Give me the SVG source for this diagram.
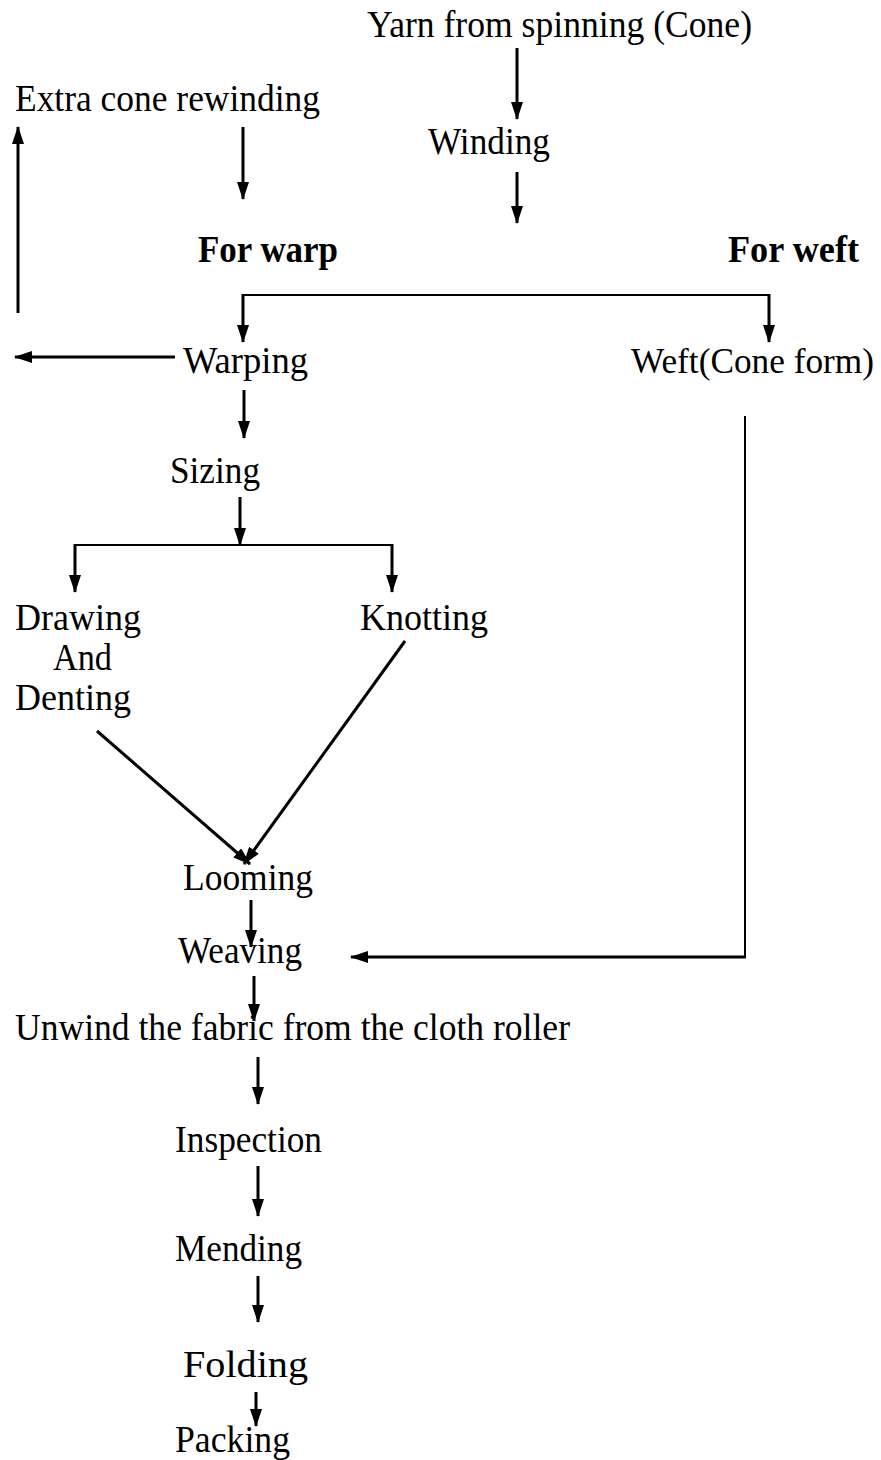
<svg xmlns="http://www.w3.org/2000/svg" width="881" height="1460" viewBox="0 0 881 1460">
<style>
text { font-family: "Liberation Serif", "Times New Roman", serif; font-size: 37px; fill: #000; }
.b { font-weight: bold; }
.s { font-size: 35px; }
.c { stroke: #000; stroke-width: 3; fill: none; }
.t { stroke: #000; stroke-width: 2; fill: none; }
.a { marker-end: url(#ah); }
</style>
<defs>
<marker id="ah" viewBox="0 0 18 12" markerWidth="18" markerHeight="12" refX="17" refY="6" orient="auto" markerUnits="userSpaceOnUse">
<path d="M0,0 L18,6 L0,12 z" fill="#000"/>
</marker>
</defs>
<rect width="881" height="1460" fill="#fff"/>
<g id="connectors">
<line class="c a" x1="517" y1="48" x2="517" y2="119"/>
<line class="c a" x1="243" y1="127" x2="243" y2="199"/>
<line class="c a" x1="517" y1="172" x2="517" y2="223"/>
<line class="c a" x1="18" y1="313" x2="18" y2="127"/>
<line class="t" x1="243" y1="295" x2="769" y2="295"/>
<line class="c a" x1="243" y1="294" x2="243" y2="342"/>
<line class="c a" x1="769" y1="294" x2="769" y2="342"/>
<line class="c a" x1="175" y1="357" x2="15" y2="357"/>
<line class="c a" x1="244" y1="390" x2="244" y2="438"/>
<line class="c a" x1="240" y1="497" x2="240" y2="545"/>
<line class="t" x1="75" y1="545" x2="392" y2="545"/>
<line class="c a" x1="75" y1="544" x2="75" y2="592"/>
<line class="c a" x1="392" y1="544" x2="392" y2="592"/>
<line class="c a" x1="97" y1="731" x2="250" y2="864"/>
<line class="c a" x1="405" y1="641" x2="244" y2="864"/>
<polyline class="t" points="745,416 745,958"/>
<line class="c a" x1="746" y1="957" x2="351" y2="957"/>
<line class="c a" x1="251" y1="900" x2="251" y2="947"/>
<line class="c a" x1="254" y1="976" x2="254" y2="1021"/>
<line class="c a" x1="258" y1="1057" x2="258" y2="1104"/>
<line class="c a" x1="258" y1="1166" x2="258" y2="1216"/>
<line class="c a" x1="258" y1="1276" x2="258" y2="1322"/>
<line class="c a" x1="256" y1="1392" x2="256" y2="1426"/>
</g>
<g id="n-yarn"><text x="367" y="37" textLength="385" lengthAdjust="spacingAndGlyphs">Yarn from spinning (Cone)</text></g>
<g id="n-extra"><text x="15" y="111" textLength="305" lengthAdjust="spacingAndGlyphs">Extra cone rewinding</text></g>
<g id="n-winding"><text x="428" y="154" textLength="122" lengthAdjust="spacingAndGlyphs">Winding</text></g>
<g id="n-forwarp"><text class="b" x="198" y="262" textLength="140" lengthAdjust="spacingAndGlyphs">For warp</text></g>
<g id="n-forweft"><text class="b" x="728" y="262" textLength="131" lengthAdjust="spacingAndGlyphs">For weft</text></g>
<g id="n-warping"><text x="183" y="373" textLength="125" lengthAdjust="spacingAndGlyphs">Warping</text></g>
<g id="n-weft"><text class="s" x="631" y="373" textLength="243" lengthAdjust="spacingAndGlyphs">Weft(Cone form)</text></g>
<g id="n-sizing"><text x="170" y="483" textLength="90" lengthAdjust="spacingAndGlyphs">Sizing</text></g>
<g id="n-drawing">
<text x="15" y="630" textLength="126" lengthAdjust="spacingAndGlyphs">Drawing</text>
<text x="53" y="670" textLength="59" lengthAdjust="spacingAndGlyphs">And</text>
<text x="15" y="710" textLength="116" lengthAdjust="spacingAndGlyphs">Denting</text>
</g>
<g id="n-knotting"><text x="360" y="630" textLength="128" lengthAdjust="spacingAndGlyphs">Knotting</text></g>
<g id="n-looming"><text x="183" y="890" textLength="130" lengthAdjust="spacingAndGlyphs">Looming</text></g>
<g id="n-weaving"><text x="178" y="963" textLength="124" lengthAdjust="spacingAndGlyphs">Weaving</text></g>
<g id="n-unwind"><text x="15" y="1040" textLength="555" lengthAdjust="spacingAndGlyphs">Unwind the fabric from the cloth roller</text></g>
<g id="n-inspection"><text x="175" y="1152" textLength="147" lengthAdjust="spacingAndGlyphs">Inspection</text></g>
<g id="n-mending"><text x="175" y="1261" textLength="127" lengthAdjust="spacingAndGlyphs">Mending</text></g>
<g id="n-folding"><text x="183" y="1377" textLength="125" lengthAdjust="spacingAndGlyphs">Folding</text></g>
<g id="n-packing"><text x="175" y="1452" textLength="115" lengthAdjust="spacingAndGlyphs">Packing</text></g>
</svg>
